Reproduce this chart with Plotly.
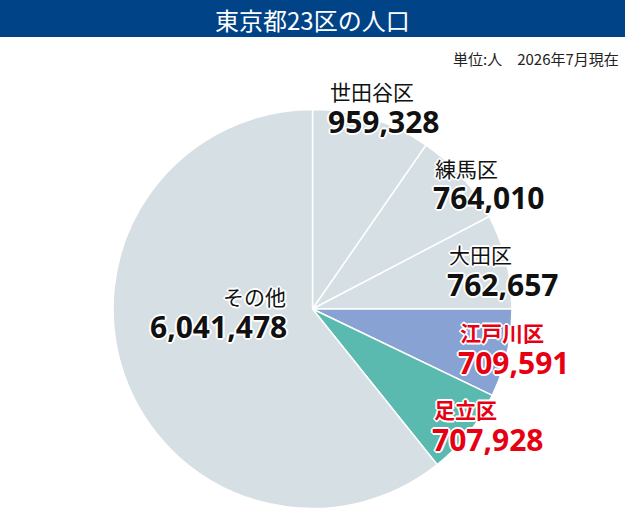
import plotly.graph_objects as go

# 東京都23区の人口（上位5区＋その他）
wards = ['世田谷区', '練馬区', '大田区', '江戸川区', '足立区', 'その他']
population = [959328, 764010, 762657, 709591, 707928, 6041478]
slice_colors = ['#D6DFE4', '#D6DFE4', '#D6DFE4', '#87A2D3', '#5BBAAF', '#D6DFE4']
label_colors = ['#111111', '#111111', '#111111', '#E60012', '#E60012', '#111111']
highlight = [False, False, False, True, True, False]

W, H = 625, 530

# label anchors in pixels (x, y of name line, alignment)
label_pos = [
    (328, 91, 'left'),
    (433, 168, 'left'),
    (447, 254, 'left'),
    (458, 332, 'left'),
    (432, 409, 'left'),
    (288, 296, 'right'),
]

fig = go.Figure(go.Pie(
    labels=wards,
    values=population,
    sort=False,
    direction='clockwise',
    rotation=0,
    marker=dict(colors=slice_colors, line=dict(color='white', width=1.5)),
    textinfo='none',
    hoverinfo='skip',
    showlegend=False,
    domain=dict(x=[113 / W, 512 / W], y=[1 - 509 / H, 1 - 109 / H]),
))

halo = ('-1px -1px 0 #fff, 1px -1px 0 #fff, -1px 1px 0 #fff, 1px 1px 0 #fff, '
        '0 -2px 0 #fff, 0 2px 0 #fff, -2px 0 0 #fff, 2px 0 0 #fff')

for name, val, col, hl, (px_, py_, al) in zip(wards, population, label_colors,
                                               highlight, label_pos):
    fig.add_annotation(
        x=px_ / W, y=1 - py_ / H, xref='paper', yref='paper',
        xanchor=al, yanchor='middle', showarrow=False,
        text=f'<b>{name}</b>' if hl else name,
        font=dict(family='Noto Sans CJK JP', size=21, color=col, shadow=halo),
    )
    fig.add_annotation(
        x=(px_ - 2 if al == 'left' else px_ + 1) / W, y=1 - (py_ + 30) / H,
        xref='paper', yref='paper',
        xanchor=al, yanchor='middle', showarrow=False,
        text=f'<b>{val:,}</b>',
        font=dict(family='Noto Sans', size=30, color=col, shadow=halo),
    )

# title bar
fig.add_shape(type='rect', xref='paper', yref='paper',
              x0=0, x1=1, y0=1 - 37 / H, y1=1,
              fillcolor='#004387', line_width=0, layer='below')
fig.add_annotation(x=312 / W, y=1 - 19.5 / H, xref='paper', yref='paper',
                   showarrow=False, xanchor='center', yanchor='middle',
                   text='東京都23区の人口',
                   font=dict(family='Noto Sans CJK JP', size=24, color='white'))
fig.add_annotation(x=621 / W, y=1 - 59 / H, xref='paper', yref='paper',
                   showarrow=False, xanchor='right', yanchor='middle',
                   text='単位:人　2026年7月現在',
                   font=dict(family='Noto Sans CJK JP', size=15, color='#222222'))

fig.update_layout(
    width=W, height=H,
    margin=dict(l=0, r=0, t=0, b=0),
    paper_bgcolor='white',
    plot_bgcolor='white',
)

fig.write_html('out.html', config={'displayModeBar': False},
               post_script="document.body.style.margin='0';")
